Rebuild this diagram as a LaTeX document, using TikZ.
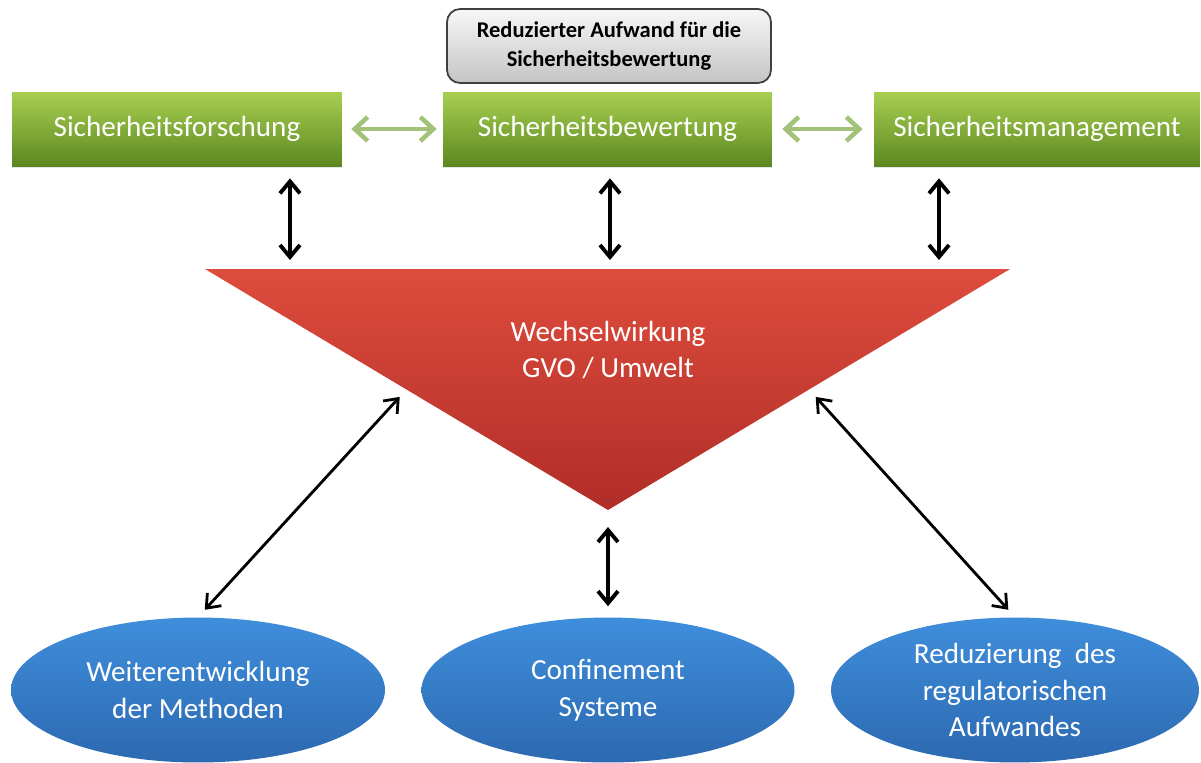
\documentclass[tikz,border=0pt]{standalone}
\usepackage{fontspec}
\setmainfont{Carlito}
\usetikzlibrary{positioning,arrows.meta,calc,shapes.geometric,shadows}

\definecolor{greentop}{HTML}{A8CF52}
\definecolor{greenbot}{HTML}{5C8820}
\definecolor{redtop}{HTML}{DE4C3D}
\definecolor{redbot}{HTML}{B02D27}
\definecolor{bluetop}{HTML}{3F8EDC}
\definecolor{bluebot}{HTML}{2C69B0}
\definecolor{graytop}{HTML}{F7F7F7}
\definecolor{graybot}{HTML}{C4C4C4}
\definecolor{lightarrow}{HTML}{A2C179}

\tikzset{
  greenbox/.style={draw=none, top color=greentop, bottom color=greenbot,
    text=white, minimum height=1.48cm, inner sep=0pt,
    drop shadow={opacity=0.2, shadow xshift=0pt, shadow yshift=-1.2pt},
    font=\fontsize{16.6}{20}\selectfont},
  notebox/.style={draw={black!75}, line width=1pt, rounded corners=0.26cm,
    top color=graytop, bottom color=graybot, minimum width=6.48cm,
    minimum height=1.48cm, align=center,
    font=\fontsize{12.8}{16.4}\selectfont\bfseries},
  bluebubble/.style={ellipse, draw=none, top color=bluetop, bottom color=bluebot,
    text=white, minimum height=2.9cm, inner sep=0pt, align=center,
    font=\fontsize{16.6}{21}\selectfont},
  greenarrow/.style={lightarrow, line width=2.6pt,
    {Straight Barb[length=2.6mm,width=4.8mm]}-{Straight Barb[length=2.6mm,width=4.8mm]}},
  vertarrow/.style={black, line width=2.2pt,
    {Straight Barb[length=2.4mm,width=4mm]}-{Straight Barb[length=2.4mm,width=4mm]}},
  diagarrow/.style={black, line width=1.6pt,
    {Straight Barb[length=2.4mm,width=3.8mm]}-{Straight Barb[length=2.4mm,width=3.8mm]}}
}

\begin{document}
\begin{tikzpicture}[x=0.02cm,y=-0.02cm]
  \useasboundingbox (0,0) rectangle (1201,762);

  % Top row
  \node[notebox] (aufwand) at (609,46) {Reduzierter Aufwand f\"ur die\\Sicherheitsbewertung};
  \node[greenbox, minimum width=6.6cm] (forschung) at (177,129) {Sicherheitsforschung};
  \node[greenbox, minimum width=6.58cm] (bewertung) at (607.5,129) {Sicherheitsbewertung};
  \node[greenbox, minimum width=6.52cm] (management) at (1037,129) {Sicherheitsmanagement};

  \draw[greenarrow, shorten <=1.8mm, shorten >=1.2mm] (forschung.east) -- (bewertung.west);
  \draw[greenarrow, shorten <=2mm, shorten >=2.2mm] (bewertung.east) -- (management.west);

  % Triangle
  \coordinate (tl) at (205,269);
  \coordinate (tr) at (1010,269);
  \coordinate (tb) at (608,510);
  \shade[top color=redtop, bottom color=redbot] (tl) -- (tr) -- (tb) -- cycle;
  \node[text=white, align=center, font=\fontsize{16.6}{20.4}\selectfont] (wechsel) at (608,350)
    {Wechselwirkung\\GVO / Umwelt};

  \draw[vertarrow, shorten <=2.4mm, shorten >=1.8mm] ([xshift=2.26cm]forschung.south) -- ([xshift=2.26cm]forschung.south |- tl);
  \draw[vertarrow, shorten <=2.4mm, shorten >=1.8mm] ([xshift=0.05cm]bewertung.south) -- ([xshift=0.05cm]bewertung.south |- tl);
  \draw[vertarrow, shorten <=2.4mm, shorten >=1.8mm] ([xshift=-1.96cm]management.south) -- ([xshift=-1.96cm]management.south |- tl);

  % Bottom row
  \node[bluebubble, minimum width=7.48cm] (methoden) at (198,690) {Weiterentwicklung\\der Methoden};
  \node[bluebubble, minimum width=7.46cm] (confinement) at (608,690) {Confinement\\Systeme};
  \node[bluebubble, minimum width=7.36cm] (regulierung) at (1015,690) {Reduzierung\ \ des\\regulatorischen\\Aufwandes};

  \draw[diagarrow, shorten <=2mm, shorten >=2mm] ($(tl)!0.5!(tb)$) -- (methoden.north);
  \draw[vertarrow, shorten <=3.4mm, shorten >=2.2mm] (tb) -- (confinement.north);
  \draw[diagarrow, shorten <=2mm, shorten >=2mm] ($(tr)!0.5!(tb)$) -- (regulierung.north);
\end{tikzpicture}
\end{document}
